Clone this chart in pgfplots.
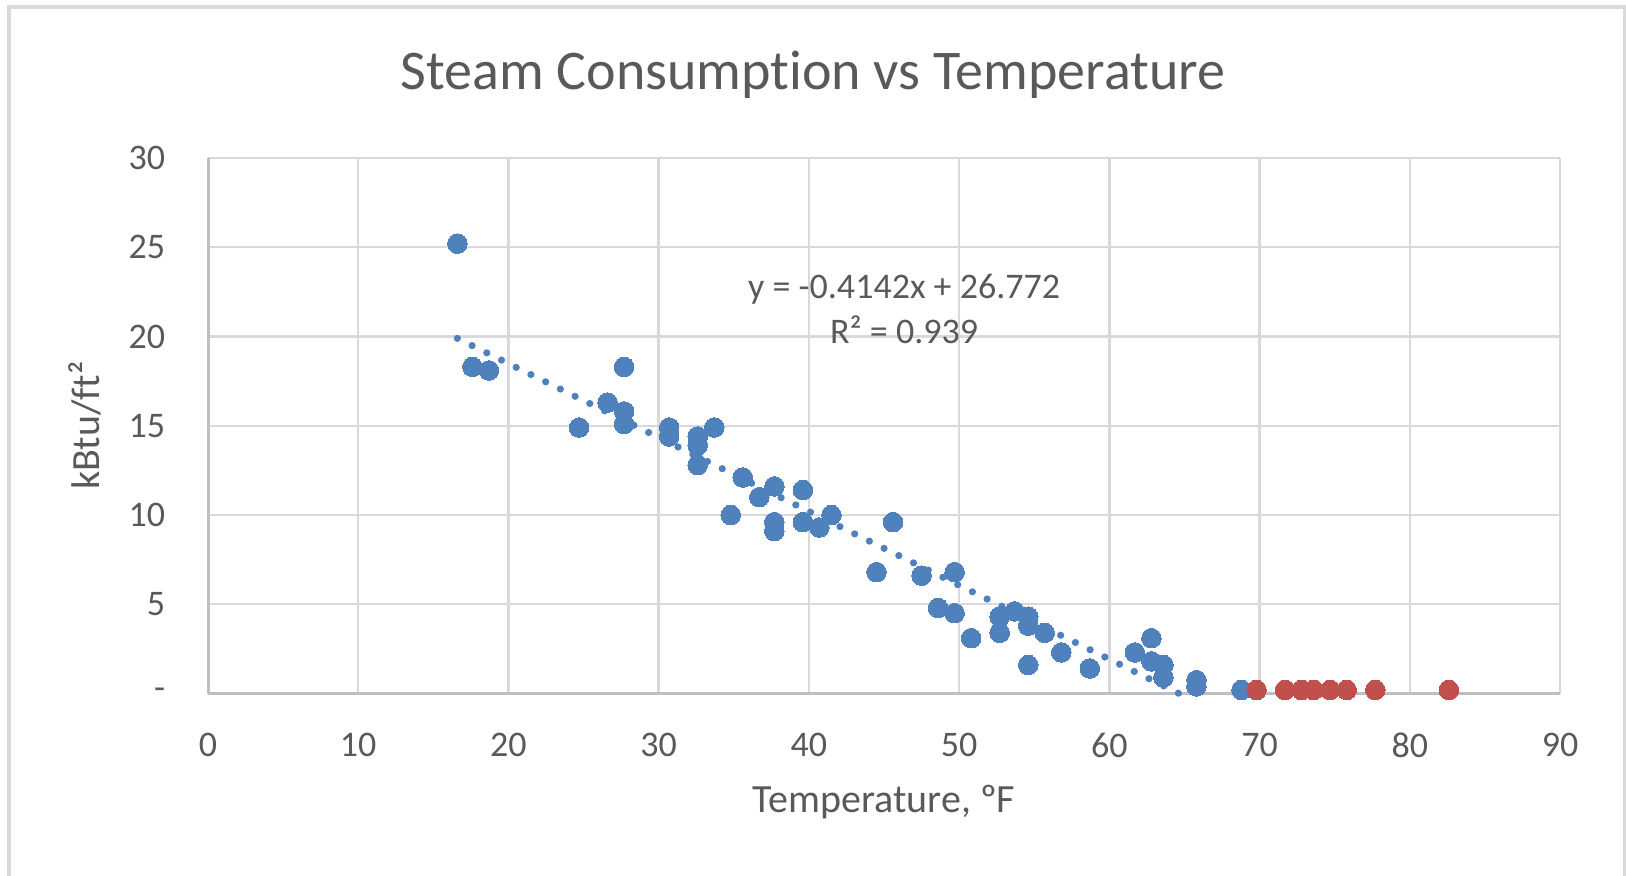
\documentclass[border=0pt]{standalone}
\usepackage{fontspec}
\setmainfont{Carlito}[Ligatures={NoCommon}]
\usepackage{pgfplots}
\pgfplotsset{compat=1.18}
\definecolor{txt}{HTML}{595959}
\definecolor{gridc}{HTML}{D9D9D9}
\definecolor{axc}{HTML}{BFBFBF}
\definecolor{blu}{HTML}{4F81BD}
\definecolor{rd}{HTML}{C0504D}
\begin{document}
\begin{tikzpicture}
\useasboundingbox (0,0) rectangle (406.5pt,-219pt);
\fill[white] (0,0) rectangle (406.5pt,-219pt);
\draw[gridc, line width=1pt] (2.175pt,-1.675pt) rectangle (406.25pt,-222pt);
\begin{axis}[
  at={(52pt,-173.375pt)}, anchor=south west,
  scale only axis, width=338pt, height=133.875pt,
  xmin=0, xmax=90, ymin=0, ymax=30,
  xtick={0,10,20,30,40,50,60,70,80,90},
  xticklabels={0,10,20,30,40,50,60,70,80,90},
  ytick={0,5,10,15,20,25,30},
  yticklabels={-,5,10,15,20,25,30},
  grid=major,
  major grid style={gridc, line width=0.6pt},
  axis x line*=bottom, axis y line*=left,
  axis line style={-, axc, line width=0.75pt},
  major tick length=0pt,
  tick style={draw=none},
  ticklabel style={font=\fontsize{9}{10}\selectfont, text=txt},
  xticklabel style={anchor=north, inner sep=0pt, yshift=-9.6pt},
  yticklabel style={anchor=east, inner sep=0pt, xshift=-10.5pt},
  title={Steam Consumption vs Temperature},
  title style={at={(axis description cs:0.4475,1.111)}, anchor=center, inner sep=0pt, font=\fontsize{14}{17}\selectfont, text=txt},
  xlabel={Temperature, ºF},
  xlabel style={at={(axis description cs:0.5,-0.2019)}, anchor=center, inner sep=0pt, font=\fontsize{10}{12}\selectfont, text=txt},
  ylabel={kBtu/ft²},
  ylabel style={at={(axis description cs:-0.091,0.5)}, anchor=center, inner sep=0pt, font=\fontsize{10}{12}\selectfont, text=txt},
  clip=false,
]
\addplot[only marks, color=blu, mark=*, mark size=2.45pt, mark options={fill=blu, draw=blu, line width=0pt}] coordinates {
(16.6,25.2) (17.6,18.3) (18.7,18.1) (24.7,14.9) (26.6,16.3) (27.7,18.3) (27.7,15.8) (27.7,15.1)
(30.7,14.9) (30.7,14.4) (32.6,14.4) (32.6,13.9) (32.6,12.8) (33.7,14.9) (34.8,10.0) (35.6,12.1)
(36.7,11.0) (37.7,11.6) (37.7,9.6) (37.7,9.1) (39.6,11.4) (39.6,9.6) (40.7,9.3) (41.5,10.0)
(44.5,6.8) (45.6,9.6) (47.5,6.6) (48.6,4.8) (49.7,6.8) (49.7,4.5) (50.8,3.1) (52.7,4.3)
(52.7,3.4) (53.7,4.6) (54.6,4.3) (54.6,3.8) (54.6,1.6) (55.7,3.4) (56.8,2.3) (58.7,1.4)
(61.7,2.3) (62.8,3.1) (62.8,1.8) (63.6,1.6) (63.6,0.9) (65.8,0.75) (65.8,0.4) (68.8,0.2)
};
\addplot[only marks, color=rd, mark=*, mark size=2.45pt, mark options={fill=rd, draw=rd, line width=0pt}] coordinates {
(69.8,0.2) (71.7,0.2) (72.8,0.2) (73.6,0.2) (74.7,0.2) (75.8,0.2) (77.7,0.2) (82.6,0.2)
};
\addplot[blu, line width=1.8pt, line cap=round, dash pattern=on 0pt off 4.1pt] coordinates {
(16.6,19.896) (64.64,0)
};
\node[text=txt, align=center, inner sep=0pt, font=\fontsize{9}{11.25}\selectfont] at (axis cs:46.34,21.54) {y = -0.4142x + 26.772\\R² = 0.939};
\end{axis}
\end{tikzpicture}
\end{document}
